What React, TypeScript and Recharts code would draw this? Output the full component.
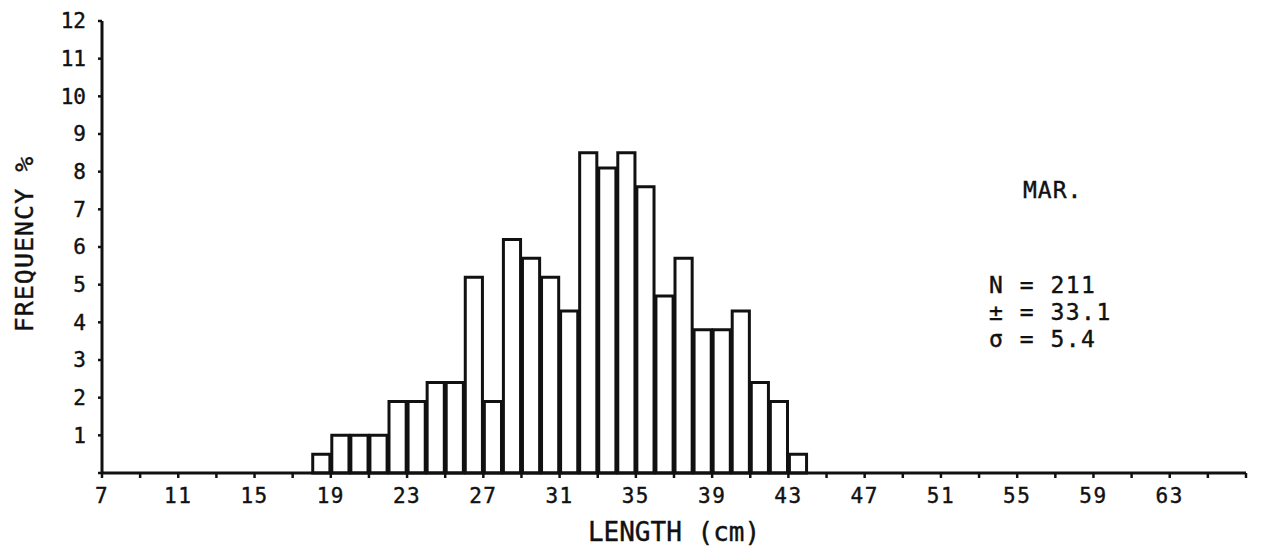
import { BarChart, Bar, XAxis, YAxis, Customized } from "recharts";

// length classes (lower edge, cm) and frequency %
const binStarts = [18, 19, 20, 21, 22, 23, 24, 25, 26, 27, 28, 29, 30, 31, 32, 33, 34, 35, 36, 37, 38, 39, 40, 41, 42, 43];
const freqPct = [0.5, 1.0, 1.0, 1.0, 1.9, 1.9, 2.4, 2.4, 5.2, 1.9, 6.2, 5.7, 5.2, 4.3, 8.5, 8.1, 8.5, 7.6, 4.7, 5.7, 3.8, 3.8, 4.3, 2.4, 1.9, 0.5];

const xTicks = [7, 9, 11, 13, 15, 17, 19, 21, 23, 25, 27, 29, 31, 33, 35, 37, 39, 41, 43, 45, 47, 49, 51, 53, 55, 57, 59, 61, 63, 65, 67];
const xLabels = [7, 11, 15, 19, 23, 27, 31, 35, 39, 43, 47, 51, 55, 59, 63];
const yTicks = [0, 1, 2, 3, 4, 5, 6, 7, 8, 9, 10, 11, 12];

const monthLabel = "MAR.";
const statLines = ["N = 211", "± = 33.1", "σ = 5.4"];

const data = binStarts.map((b, i) => ({ mid: b + 0.5, freq: freqPct[i] }));

const INK = "#111";
const FONT = "'DejaVu Sans Mono', monospace";

const W = 1268;
const H = 549;
const LEFT = 102;
const RIGHT = 22;
const binPx = (W - LEFT - RIGHT) / (xTicks[xTicks.length - 1] - xTicks[0]);

// typed text looks a touch heavier than the plain font
const inked = { stroke: INK, strokeWidth: 0.4 };

function Notes() {
  return (
    <g fontFamily={FONT} fill={INK} {...inked}>
      <text x={1023} y={198} fontSize={23} letterSpacing={1}>
        {monthLabel}
      </text>
      {statLines.map((s, i) => (
        <text key={s} x={989} y={293 + i * 27} fontSize={23} letterSpacing={1.5}>
          {s}
        </text>
      ))}
    </g>
  );
}

export default function App() {
  return (
    <div style={{ position: "absolute", left: 0, top: 0, background: "#fff" }}>
      <BarChart
        width={W}
        height={H}
        data={data}
        margin={{ top: 21, right: RIGHT, bottom: 0, left: 0 }}
      >
        <XAxis
          type="number"
          dataKey="mid"
          domain={[7, 67]}
          ticks={xTicks}
          interval={0}
          allowDataOverflow
          height={76}
          tickSize={5}
          tickMargin={10}
          tickFormatter={(v: number) => (xLabels.includes(v) ? String(v) : "")}
          tick={{ fill: INK, fontSize: 21, fontFamily: FONT, letterSpacing: 1.5, ...inked }}
          tickLine={{ stroke: INK, strokeWidth: 2.5 }}
          axisLine={{ stroke: INK, strokeWidth: 3 }}
          label={{
            content: () => (
              <text x={674} y={541} textAnchor="middle" fontSize={26} fontFamily={FONT} fill={INK} {...inked}>
                LENGTH (cm)
              </text>
            ),
          }}
        />
        <YAxis
          type="number"
          domain={[0, 12]}
          ticks={yTicks}
          interval={0}
          width={LEFT}
          tickSize={4}
          tickMargin={12}
          tickFormatter={(v: number) => (v === 0 ? "" : String(v))}
          tick={{ fill: INK, fontSize: 21, fontFamily: FONT, ...inked }}
          tickLine={{ stroke: INK, strokeWidth: 2.5 }}
          axisLine={{ stroke: INK, strokeWidth: 3 }}
          label={{
            content: () => (
              <text
                x={33}
                y={244}
                transform="rotate(-90 33 244)"
                textAnchor="middle"
                fontSize={25}
                fontFamily={FONT}
                letterSpacing={1}
                fill={INK}
                {...inked}
              >
                FREQUENCY %
              </text>
            ),
          }}
        />
        <Bar
          dataKey="freq"
          barSize={binPx}
          fill="#fff"
          stroke={INK}
          strokeWidth={3}
          isAnimationActive={false}
        />
        <Customized component={Notes} />
      </BarChart>
    </div>
  );
}
